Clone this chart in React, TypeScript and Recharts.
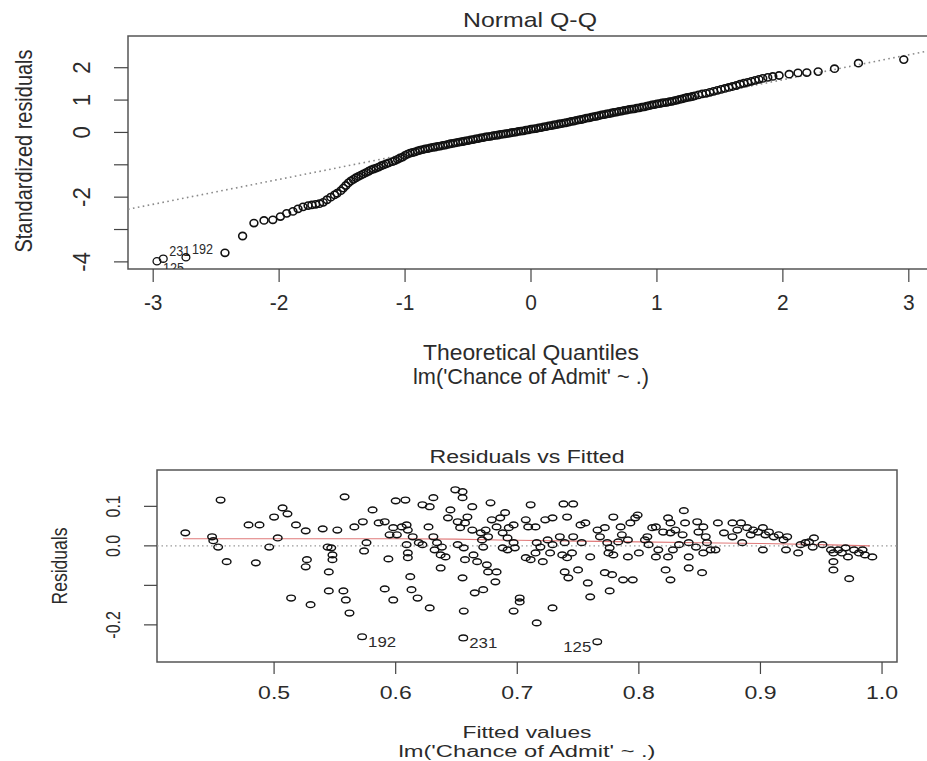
import React from "react";
import {
  ScatterChart,
  Scatter,
  XAxis,
  YAxis,
  ReferenceLine,
  ReferenceArea,
} from "recharts";

// ---- Normal Q-Q panel data ----
const qqTheoretical = [
  -2.43, -2.29, -2.2, -2.12, -2.05, -1.99, -1.94, -1.89, -1.85, -1.81,
  -1.77, -1.74, -1.71, -1.68, -1.65, -1.62, -1.59, -1.56, -1.54, -1.51,
  -1.49, -1.47, -1.45, -1.43, -1.41, -1.39, -1.37, -1.35, -1.33, -1.31,
  -1.29, -1.27, -1.25, -1.23, -1.21, -1.19, -1.17, -1.15, -1.13,
  -1.1, -1.08, -1.06, -1.04, -1.02, -1.0, -0.98, -0.96, -0.94, -0.92,
  -0.9, -0.88, -0.86, -0.84, -0.82, -0.8, -0.78, -0.76, -0.74, -0.72,
  -0.7, -0.68, -0.66, -0.64, -0.62, -0.6, -0.58, -0.56, -0.54, -0.52,
  -0.5, -0.48, -0.46, -0.44, -0.42, -0.4, -0.38, -0.36, -0.34, -0.32,
  -0.3, -0.28, -0.26, -0.24, -0.22, -0.2, -0.18, -0.16, -0.14, -0.12,
  -0.1, -0.08, -0.06, -0.04, -0.02, 0.0, 0.02, 0.04, 0.06, 0.08,
  0.1, 0.12, 0.14, 0.16, 0.18, 0.2, 0.22, 0.24, 0.26, 0.28,
  0.3, 0.32, 0.34, 0.36, 0.38, 0.4, 0.42, 0.44, 0.46, 0.48,
  0.5, 0.52, 0.54, 0.56, 0.58, 0.6, 0.62, 0.64, 0.66, 0.68,
  0.7, 0.72, 0.74, 0.76, 0.78, 0.8, 0.82, 0.84, 0.86, 0.88,
  0.9, 0.92, 0.94, 0.96, 0.98, 1.0, 1.02, 1.04, 1.06, 1.08,
  1.1, 1.12, 1.14, 1.16, 1.18, 1.2, 1.22, 1.24, 1.26, 1.28, 1.3,
  1.33, 1.36, 1.39, 1.42, 1.45, 1.48, 1.51, 1.54, 1.57, 1.6,
  1.63, 1.66, 1.69, 1.72, 1.75, 1.78, 1.81, 1.84, 1.88, 1.92, 1.97,
  2.05, 2.12, 2.19, 2.28, 2.41, 2.6, 2.96,
];
const qqStdResid = [
  -3.72, -3.2, -2.8, -2.72, -2.7, -2.6, -2.5, -2.44, -2.36, -2.3,
  -2.26, -2.24, -2.22, -2.2, -2.16, -2.08, -2.0, -1.93, -1.88, -1.8,
  -1.72, -1.64, -1.56, -1.5, -1.45, -1.4, -1.36, -1.32, -1.28, -1.24,
  -1.2, -1.16, -1.13, -1.1, -1.07, -1.03, -1.0, -0.97, -0.94,
  -0.9, -0.87, -0.83, -0.79, -0.76, -0.71, -0.67, -0.64, -0.62, -0.6,
  -0.57, -0.55, -0.53, -0.51, -0.5, -0.48, -0.46, -0.45, -0.43, -0.42,
  -0.4, -0.39, -0.37, -0.35, -0.34, -0.32, -0.31, -0.29, -0.28, -0.26,
  -0.25, -0.23, -0.22, -0.2, -0.19, -0.17, -0.16, -0.14, -0.13, -0.12,
  -0.1, -0.09, -0.08, -0.06, -0.05, -0.04, -0.03, -0.01, 0.0, 0.01,
  0.03, 0.04, 0.05, 0.07, 0.08, 0.1, 0.11, 0.12, 0.14, 0.15,
  0.17, 0.18, 0.2, 0.21, 0.23, 0.24, 0.26, 0.27, 0.29, 0.3,
  0.32, 0.34, 0.35, 0.37, 0.39, 0.4, 0.42, 0.44, 0.45, 0.47,
  0.49, 0.5, 0.52, 0.54, 0.55, 0.57, 0.58, 0.6, 0.62, 0.63,
  0.65, 0.66, 0.68, 0.69, 0.71, 0.72, 0.73, 0.75, 0.76, 0.78,
  0.79, 0.81, 0.83, 0.85, 0.86, 0.88, 0.89, 0.91, 0.92, 0.93,
  0.95, 0.96, 0.98, 1.0, 1.02, 1.04, 1.06, 1.08, 1.09, 1.11, 1.13,
  1.16, 1.19, 1.21, 1.24, 1.27, 1.3, 1.33, 1.36, 1.39, 1.42,
  1.45, 1.49, 1.52, 1.55, 1.58, 1.61, 1.64, 1.67, 1.7, 1.73, 1.76,
  1.8, 1.84, 1.85, 1.88, 1.97, 2.14, 2.25,
];
const qqOutlierIds = ["125", "231", "192"];
const qqOutlierX = [-2.97, -2.92, -2.74];
const qqOutlierY = [-3.98, -3.9, -3.86];
const qqLineX = [-3.2, 3.2];
const qqLineY = [-2.374, 2.554];
const qqXTicks = [-3, -2, -1, 0, 1, 2, 3];
const qqYTicks = [-4, -3, -2, -1, 0, 1, 2];
const qqYLabelled = [-4, -2, 0, 1, 2];

// ---- Residuals vs Fitted panel data ----
const fitted = [
  0.427, 0.456, 0.449, 0.45, 0.454, 0.461, 0.479, 0.488, 0.485, 0.496,
  0.5, 0.507, 0.511, 0.503, 0.518, 0.526, 0.514, 0.53, 0.527, 0.526,
  0.54, 0.552, 0.558, 0.544, 0.547, 0.548, 0.548, 0.545, 0.545, 0.557,
  0.559, 0.562, 0.566, 0.573, 0.576, 0.574, 0.581, 0.586, 0.591, 0.594,
  0.591, 0.598, 0.6, 0.595, 0.601, 0.598, 0.605,
  0.608, 0.609, 0.61, 0.614, 0.609, 0.61, 0.61, 0.612, 0.613, 0.618,
  0.628, 0.622, 0.628, 0.631, 0.627, 0.619, 0.622, 0.631, 0.634, 0.632,
  0.638, 0.637, 0.641, 0.637, 0.645, 0.643, 0.649, 0.655, 0.655, 0.651,
  0.653, 0.657, 0.659, 0.663, 0.651, 0.656, 0.657, 0.655, 0.656, 0.663,
  0.664, 0.667, 0.665, 0.672, 0.67, 0.671, 0.672, 0.674, 0.676, 0.678,
  0.675, 0.676, 0.682, 0.683, 0.679, 0.683, 0.686, 0.69, 0.688, 0.692,
  0.693, 0.688, 0.692, 0.697, 0.697, 0.698, 0.697, 0.702, 0.702, 0.711,
  0.707, 0.709, 0.715, 0.707, 0.711, 0.715, 0.716, 0.719, 0.721, 0.716,
  0.723, 0.729, 0.725, 0.729, 0.727, 0.729, 0.738, 0.746, 0.741, 0.735,
  0.739, 0.737, 0.741, 0.745, 0.739, 0.742, 0.75, 0.746, 0.752, 0.756,
  0.753, 0.758, 0.76, 0.76, 0.766, 0.768, 0.772, 0.772, 0.778, 0.776,
  0.779, 0.774, 0.776, 0.775, 0.779, 0.785, 0.786, 0.783, 0.791, 0.787,
  0.795, 0.793, 0.797, 0.799, 0.791, 0.8, 0.805,
  0.807, 0.808, 0.811, 0.814, 0.814, 0.816, 0.82, 0.822, 0.826, 0.824,
  0.826, 0.826, 0.824, 0.828, 0.83, 0.833, 0.837, 0.838, 0.836, 0.841,
  0.841, 0.841, 0.848, 0.849, 0.847, 0.852, 0.853, 0.855, 0.856, 0.853,
  0.859, 0.863, 0.865, 0.87, 0.877, 0.881, 0.884, 0.877, 0.885, 0.889,
  0.892, 0.894, 0.898, 0.902, 0.902, 0.904, 0.907, 0.911, 0.915, 0.919,
  0.922, 0.921, 0.931, 0.933, 0.937, 0.94, 0.944, 0.943, 0.951, 0.958,
  0.96, 0.96, 0.96, 0.964, 0.967, 0.97, 0.972, 0.973, 0.977, 0.981,
  0.984, 0.986, 0.992,
];
const residuals = [
  0.033, 0.116, 0.023, 0.013, -0.003, -0.04, 0.053, 0.053, -0.043, -0.003,
  0.073, 0.096, 0.081, 0.02, 0.053, 0.038, -0.132, -0.149, -0.035, -0.053,
  0.043, 0.04, 0.124, -0.003, -0.005, -0.023, -0.035, -0.066, -0.114, -0.114,
  -0.137, -0.17, 0.048, 0.061, 0.008, -0.013, 0.091, 0.058, 0.061, -0.033,
  -0.109, -0.137, 0.114, 0.028, 0.028, 0.046, 0.048,
  0.116, 0.053, 0.04, 0.023, 0.003, -0.018, -0.03, -0.078, -0.111, -0.132,
  -0.157, 0.104, 0.099, 0.122, 0.048, 0.008, 0.003, 0.023, 0.008, -0.01,
  -0.003, -0.023, -0.028, -0.056, 0.091, 0.071, 0.142, 0.137, 0.122, 0.061,
  0.046, 0.058, 0.073, 0.099, 0.003, -0.005, -0.035, -0.081, -0.165, 0.04,
  -0.023, -0.04, -0.119, -0.111, 0.033, 0.015, -0.003, 0.04, 0.023, 0.109,
  -0.048, -0.066, -0.091, -0.066, 0.066, 0.048, 0.071, 0.084, 0.033, 0.02,
  0.046, -0.005, -0.01, 0.053, 0.008, -0.005, -0.165, -0.142, -0.132, 0.104,
  0.066, 0.048, 0.048, -0.03, -0.035, -0.018, 0.008, -0.003, -0.04, -0.195,
  0.066, 0.071, 0.015, 0.003, -0.018, -0.157, 0.106, 0.106, 0.073, 0.023,
  0.008, -0.023, -0.03, -0.018, -0.066, -0.081, -0.061, 0.023, 0.053, 0.058,
  0.008, -0.094, -0.129, -0.028, 0.04, 0.023, 0.046, -0.068, -0.073, -0.114,
  0.073, 0.008, -0.005, -0.018, -0.023, 0.048, 0.028, 0.01, 0.015, -0.086,
  -0.086, 0.058, 0.071, 0.078, -0.028, -0.018, 0.015,
  0.023, 0.003, 0.046, 0.048, -0.028, -0.01, 0.035, -0.061, -0.086, 0.071,
  0.058, 0.033, -0.028, -0.01, 0.04, 0.003, 0.089, 0.058, 0.028, 0.008,
  -0.028, -0.056, 0.061, 0.035, -0.003, -0.068, 0.048, 0.023, 0.008, -0.018,
  -0.01, -0.01, 0.058, 0.033, 0.058, 0.04, 0.058, 0.023, 0.008, 0.046,
  0.028, 0.04, 0.035, 0.046, -0.01, 0.028, 0.035, 0.023, 0.028, 0.015,
  0.023, -0.01, -0.018, 0.003, 0.008, 0.01, 0.02, -0.003, 0.003, -0.01,
  -0.018, -0.04, -0.061, -0.01, -0.018, -0.005, -0.028, -0.083, -0.01, -0.018,
  -0.01, -0.023, -0.028,
];
const rvfOutlierIds = ["192", "231", "125"];
const rvfOutlierFitted = [0.5724, 0.6556, 0.7658];
const rvfOutlierResid = [-0.23, -0.233, -0.243];
const smoothFitted = [0.425, 0.5, 0.6, 0.65, 0.7, 0.75, 0.8, 0.85, 0.9, 0.95, 0.99];
const smoothResid = [0.018, 0.018, 0.018, 0.017, 0.014, 0.012, 0.01, 0.008, 0.006, 0.003, 0.0];
const rvfXTicks = [0.5, 0.6, 0.7, 0.8, 0.9, 1.0];
const rvfYTicks = [-0.2, -0.1, 0, 0.1];
const rvfYLabelled = [-0.2, 0, 0.1];

const qqPoints = qqTheoretical.map((x, i) => ({ x, y: qqStdResid[i] }));
const qqOutliers = qqOutlierIds.map((id, i) => ({ x: qqOutlierX[i], y: qqOutlierY[i], id }));
const rvfPoints = fitted.map((x, i) => ({ x, y: residuals[i] }));
const rvfOutliers = rvfOutlierIds.map((id, i) => ({ x: rvfOutlierFitted[i], y: rvfOutlierResid[i], id }));
const smoothPoints = smoothFitted.map((x, i) => ({ x, y: smoothResid[i] }));

const FONT = '"Liberation Sans", Arial, Helvetica, sans-serif';
const INK = "#2b2b2b";
const QQ_X = [-3.2, 3.2];
const QQ_Y = [-4.22, 2.98];
const RVF_X = [0.4037, 1.0123];
const RVF_Y = [-0.294, 0.192];
const RVF_TOP = 420;

type TxtProps = {
  x: number;
  y: number;
  text: string;
  size: number;
  len?: number;
  sx?: number;
  rotate?: boolean;
  anchor?: "start" | "middle" | "end";
};

function Txt({ x, y, text, size, len, sx = 1, rotate, anchor = "middle" }: TxtProps) {
  const tf = `translate(${x} ${y})${rotate ? " rotate(-90)" : ""} scale(${sx} 1)`;
  return (
    <text
      transform={tf}
      x={0}
      y={0}
      textAnchor={anchor}
      fontSize={size}
      fontFamily={FONT}
      fill={INK}
      textLength={len}
      lengthAdjust={len ? "spacingAndGlyphs" : undefined}
    >
      {text}
    </text>
  );
}

const ring = (rx: number, ry: number, sw: number) => (p: any) => (
  <ellipse cx={p.cx} cy={p.cy} rx={rx} ry={ry} fill="none" stroke="#111" strokeWidth={sw} />
);

// the lowest labelled point gets its id pushed a little lower, as R's pos=4 text ends up there
const labelledRing =
  (rx: number, ry: number, size: number, sx: number, dy: number, lowDy: number, lowY: number, midX: number) =>
  (p: any) => {
    const right = p.payload.x < midX;
    const off = p.payload.y <= lowY ? lowDy : dy;
    return (
      <g>
        <ellipse cx={p.cx} cy={p.cy} rx={rx} ry={ry} fill="none" stroke="#111" strokeWidth={1.3} />
        <Txt
          x={right ? p.cx + 6 : p.cx - 6}
          y={p.cy + off}
          text={p.payload.id}
          size={size}
          sx={sx}
          anchor={right ? "start" : "end"}
        />
      </g>
    );
  };

const nothing = () => <g />;

function QQPanel() {
  return (
    <ScatterChart width={960} height={400} margin={{ top: 36, right: 26, left: 0, bottom: 0 }}>
      <XAxis
        type="number"
        dataKey="x"
        domain={QQ_X}
        ticks={qqXTicks}
        interval={0}
        allowDataOverflow
        height={131}
        axisLine={false}
        tickSize={13}
        tickLine={{ stroke: "#444", strokeWidth: 1.2 }}
        tick={(p: any) => <Txt x={p.x} y={310} text={String(p.payload.value)} size={22} sx={0.95} />}
      />
      <YAxis
        type="number"
        dataKey="y"
        domain={QQ_Y}
        ticks={qqYTicks}
        interval={0}
        allowDataOverflow
        width={128}
        axisLine={false}
        tickSize={14}
        tickLine={{ stroke: "#444", strokeWidth: 1.2 }}
        tick={(p: any) =>
          qqYLabelled.includes(p.payload.value) ? (
            <Txt x={90} y={p.y} text={String(p.payload.value)} size={24} sx={0.92} rotate />
          ) : (
            <g />
          )
        }
      />
      <ReferenceArea
        x1={QQ_X[0]}
        x2={QQ_X[1]}
        y1={QQ_Y[0]}
        y2={QQ_Y[1]}
        fill="none"
        stroke="#555"
        strokeWidth={1.5}
        ifOverflow="visible"
      />
      <ReferenceLine
        segment={[
          { x: qqLineX[0], y: qqLineY[0] },
          { x: qqLineX[1], y: qqLineY[1] },
        ]}
        stroke="#8a8a8a"
        strokeWidth={1.6}
        strokeDasharray="1.6 3.4"
        ifOverflow="visible"
      />
      <Scatter data={qqPoints} shape={ring(3.9, 3.6, 1.6)} isAnimationActive={false} />
      <Scatter
        data={qqOutliers}
        shape={labelledRing(3.9, 3.6, 14, 0.9, -3, 12, -3.95, 0)}
        isAnimationActive={false}
      />
    </ScatterChart>
  );
}

function RvfPanel() {
  return (
    <ScatterChart width={927} height={341} margin={{ top: 50, right: 30, left: 0, bottom: 0 }}>
      <XAxis
        type="number"
        dataKey="x"
        domain={RVF_X}
        ticks={rvfXTicks}
        interval={0}
        allowDataOverflow
        height={99}
        axisLine={false}
        tickSize={12}
        tickLine={{ stroke: "#444", strokeWidth: 1.2 }}
        tick={(p: any) => (
          <Txt x={p.x} y={699 - RVF_TOP} text={p.payload.value.toFixed(1)} size={18} sx={1.28} />
        )}
      />
      <YAxis
        type="number"
        dataKey="y"
        domain={RVF_Y}
        ticks={rvfYTicks}
        interval={0}
        allowDataOverflow
        width={157}
        axisLine={false}
        tickSize={13}
        tickLine={{ stroke: "#444", strokeWidth: 1.2 }}
        tick={(p: any) =>
          rvfYLabelled.includes(p.payload.value) ? (
            <Txt x={120} y={p.y} text={p.payload.value.toFixed(1)} size={20} sx={0.8} rotate />
          ) : (
            <g />
          )
        }
      />
      <ReferenceArea
        x1={RVF_X[0]}
        x2={RVF_X[1]}
        y1={RVF_Y[0]}
        y2={RVF_Y[1]}
        fill="none"
        stroke="#555"
        strokeWidth={1.5}
        ifOverflow="visible"
      />
      <ReferenceLine y={0} stroke="#9a9a9a" strokeWidth={1.4} strokeDasharray="1.5 3" />
      <Scatter
        data={smoothPoints}
        line={{ stroke: "#e07a7a", strokeWidth: 1.1 }}
        shape={nothing}
        isAnimationActive={false}
      />
      <Scatter data={rvfPoints} shape={ring(4.3, 2.9, 1.45)} isAnimationActive={false} />
      <Scatter
        data={rvfOutliers}
        shape={labelledRing(4.3, 2.9, 15, 1.12, 10, 10, -1, 0.708)}
        isAnimationActive={false}
      />
    </ScatterChart>
  );
}

export default function App() {
  return (
    <div
      style={{
        position: "absolute",
        left: 0,
        top: 0,
        width: 927,
        height: 761,
        overflow: "hidden",
        background: "#fff",
        fontFamily: FONT,
      }}
    >
      <div style={{ position: "absolute", left: 0, top: 0 }}>
        <QQPanel />
      </div>
      <div style={{ position: "absolute", left: 0, top: RVF_TOP }}>
        <RvfPanel />
      </div>
      <svg
        width={927}
        height={761}
        style={{ position: "absolute", left: 0, top: 0, pointerEvents: "none" }}
      >
        <Txt x={530} y={27} text="Normal Q-Q" size={21} len={134} />
        <Txt x={32} y={151} text="Standardized residuals" size={24} len={203} rotate />
        <Txt x={531} y={360} text="Theoretical Quantiles" size={22} len={216} />
        <Txt x={531} y={384} text="lm('Chance of Admit' ~ .)" size={22} len={236} />
        <Txt x={527} y={463} text="Residuals vs Fitted" size={18} len={195} />
        <Txt x={67} y={566} text="Residuals" size={22} len={77} rotate />
        <Txt x={527} y={738} text="Fitted values" size={16} len={129} />
        <Txt x={527} y={757} text="lm('Chance of Admit' ~ .)" size={16} len={257} />
      </svg>
    </div>
  );
}
